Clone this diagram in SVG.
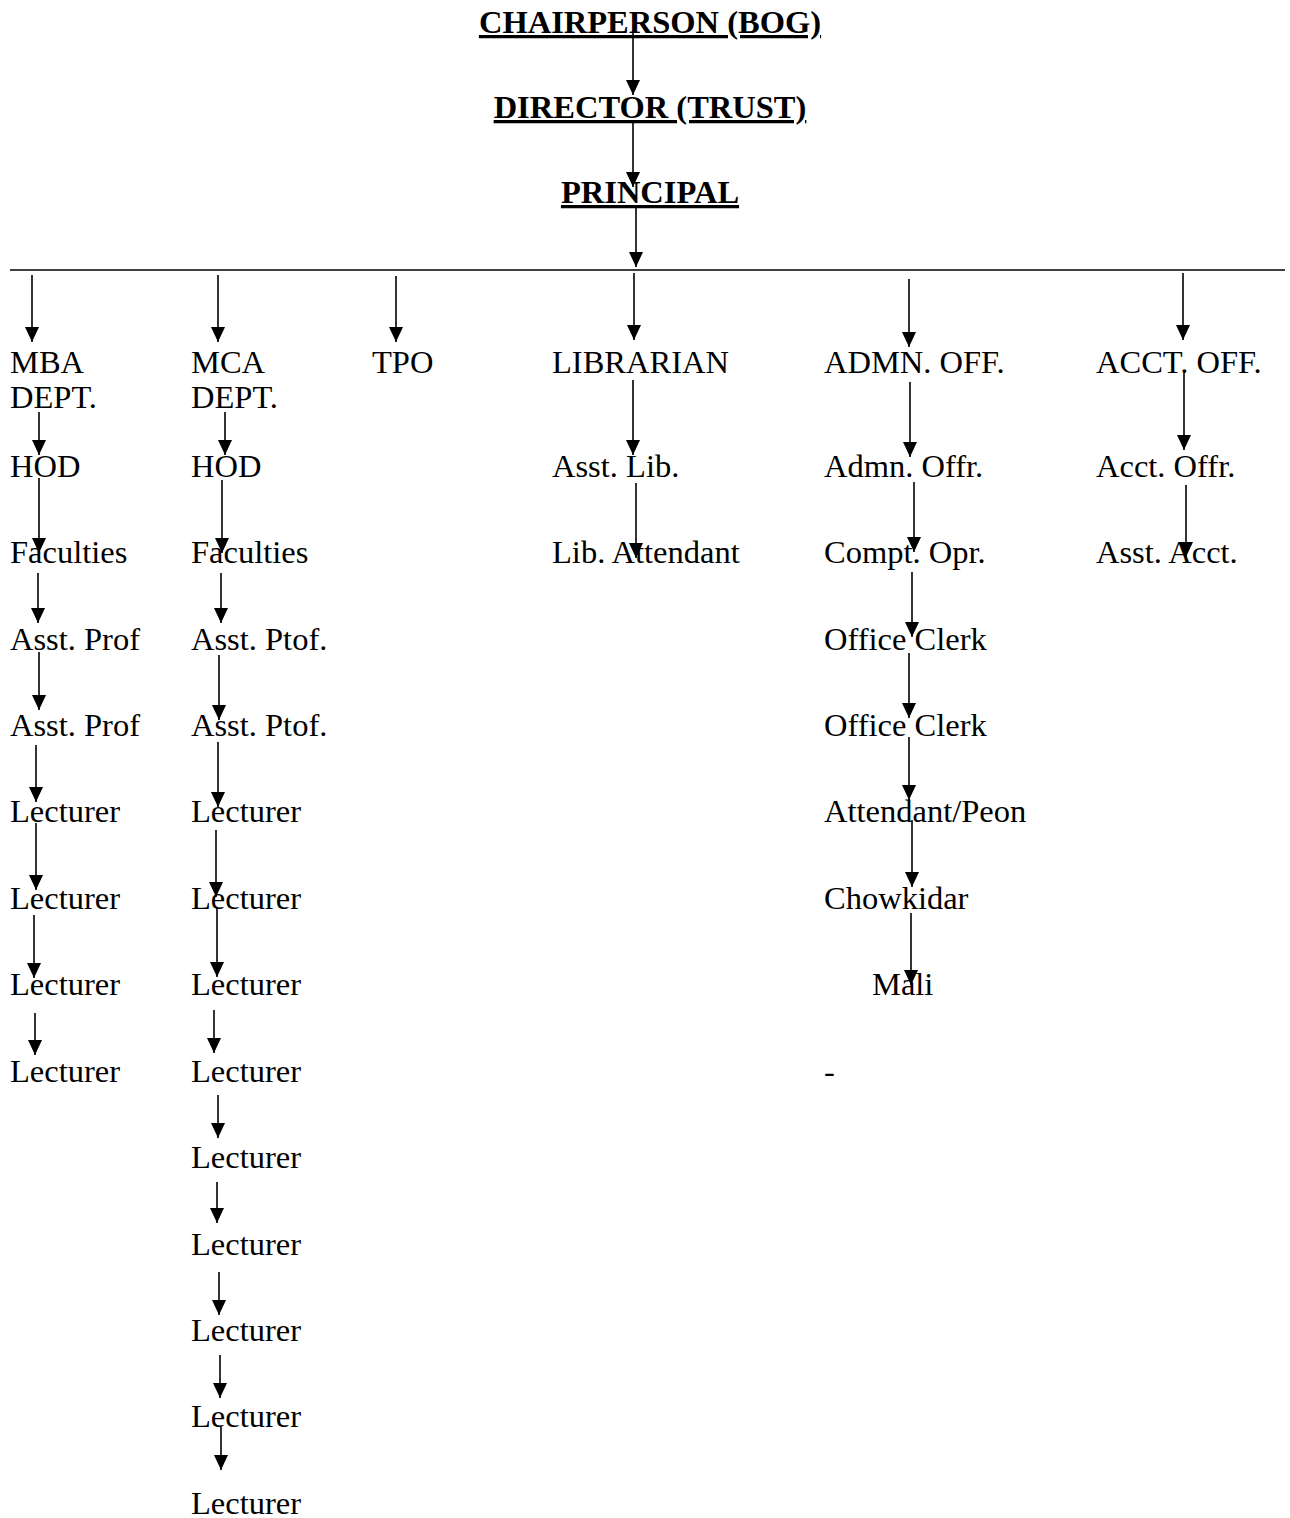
<svg xmlns="http://www.w3.org/2000/svg" width="1290" height="1518" viewBox="0 0 1290 1518">
<style>
text{font-family:"Liberation Serif","Times New Roman",serif;font-size:32.5px;fill:#000}
.t{font-weight:bold;text-anchor:middle;text-decoration:underline}
.c line{stroke:#000;stroke-width:1.6;marker-end:url(#ah)}
.bar{stroke:#000;stroke-width:1.8}
</style>
<defs>
<marker id="ah" markerUnits="userSpaceOnUse" viewBox="0 -7 15 14" markerWidth="15" markerHeight="14" refX="15" refY="0" orient="auto">
<path d="M0,-7 L15,0 L0,7 z" fill="#000"/>
</marker>
</defs>
<rect width="1290" height="1518" fill="#fff"/>
<g id="n-chair"><text class="t" x="650" y="33">CHAIRPERSON (BOG)</text></g>
<g id="n-director"><text class="t" x="650" y="118">DIRECTOR (TRUST)</text></g>
<g id="n-principal"><text class="t" x="650" y="203">PRINCIPAL</text></g>
<g id="mba">
<text x="10" y="373">MBA</text><text x="10" y="408">DEPT.</text>
<text x="10" y="477">HOD</text><text x="10" y="563">Faculties</text>
<text x="10" y="650">Asst. Prof</text><text x="10" y="736">Asst. Prof</text>
<text x="10" y="822">Lecturer</text><text x="10" y="909">Lecturer</text>
<text x="10" y="995">Lecturer</text><text x="10" y="1082">Lecturer</text>
</g>
<g id="mca">
<text x="191" y="373">MCA</text><text x="191" y="408">DEPT.</text>
<text x="191" y="477">HOD</text><text x="191" y="563">Faculties</text>
<text x="191" y="650">Asst. Ptof.</text><text x="191" y="736">Asst. Ptof.</text>
<text x="191" y="822">Lecturer</text><text x="191" y="909">Lecturer</text>
<text x="191" y="995">Lecturer</text><text x="191" y="1082">Lecturer</text>
<text x="191" y="1168">Lecturer</text><text x="191" y="1255">Lecturer</text>
<text x="191" y="1341">Lecturer</text><text x="191" y="1427">Lecturer</text>
<text x="191" y="1514">Lecturer</text>
</g>
<g id="tpo"><text x="372" y="373">TPO</text></g>
<g id="lib">
<text x="552" y="373">LIBRARIAN</text><text x="552" y="477">Asst. Lib.</text><text x="552" y="563">Lib. Attendant</text>
</g>
<g id="admn">
<text x="824" y="373">ADMN. OFF.</text><text x="824" y="477">Admn. Offr.</text>
<text x="824" y="563">Compt. Opr.</text><text x="824" y="650">Office Clerk</text>
<text x="824" y="736">Office Clerk</text><text x="824" y="822">Attendant/Peon</text>
<text x="824" y="909">Chowkidar</text><text x="872" y="995">Mali</text>
<text x="824" y="1082">-</text>
</g>
<g id="acct">
<text x="1096" y="373">ACCT. OFF.</text><text x="1096" y="477">Acct. Offr.</text><text x="1096" y="563">Asst. Acct.</text>
</g>
<g id="connectors" class="c">
<line class="bar" x1="10" y1="270" x2="1285" y2="270" style="marker-end:none"/>
<line x1="633" y1="30" x2="633" y2="95"/>
<line x1="633" y1="123" x2="633" y2="187"/>
<line x1="636" y1="208" x2="636" y2="267"/>
<line x1="32" y1="275" x2="32" y2="342"/>
<line x1="218" y1="275" x2="218" y2="342"/>
<line x1="396" y1="276" x2="396" y2="342"/>
<line x1="634" y1="273" x2="634" y2="340"/>
<line x1="909" y1="279" x2="909" y2="347"/>
<line x1="1183" y1="273" x2="1183" y2="340"/>
<line x1="39" y1="412" x2="39" y2="455"/>
<line x1="39" y1="478" x2="39" y2="553"/>
<line x1="38" y1="573" x2="38" y2="623"/>
<line x1="39" y1="652" x2="39" y2="710"/>
<line x1="36" y1="745" x2="36" y2="802"/>
<line x1="36" y1="823" x2="36" y2="890"/>
<line x1="34" y1="915" x2="34" y2="978"/>
<line x1="35" y1="1013" x2="35" y2="1055"/>
<line x1="225" y1="412" x2="225" y2="455"/>
<line x1="222" y1="480" x2="222" y2="553"/>
<line x1="221" y1="573" x2="221" y2="623"/>
<line x1="219" y1="655" x2="219" y2="720"/>
<line x1="218" y1="742" x2="218" y2="807"/>
<line x1="216" y1="830" x2="216" y2="897"/>
<line x1="217" y1="908" x2="217" y2="977"/>
<line x1="214" y1="1010" x2="214" y2="1053"/>
<line x1="218" y1="1095" x2="218" y2="1138"/>
<line x1="217" y1="1182" x2="217" y2="1223"/>
<line x1="219" y1="1272" x2="219" y2="1315"/>
<line x1="220" y1="1355" x2="220" y2="1398"/>
<line x1="221" y1="1427" x2="221" y2="1470"/>
<line x1="633" y1="380" x2="633" y2="455"/>
<line x1="636" y1="483" x2="636" y2="558"/>
<line x1="910" y1="382" x2="910" y2="457"/>
<line x1="914" y1="482" x2="914" y2="552"/>
<line x1="912" y1="572" x2="912" y2="637"/>
<line x1="909" y1="653" x2="909" y2="718"/>
<line x1="909" y1="737" x2="909" y2="800"/>
<line x1="912" y1="820" x2="912" y2="887"/>
<line x1="911" y1="913" x2="911" y2="985"/>
<line x1="1184" y1="373" x2="1184" y2="450"/>
<line x1="1186" y1="485" x2="1186" y2="557"/>
</g>
</svg>
